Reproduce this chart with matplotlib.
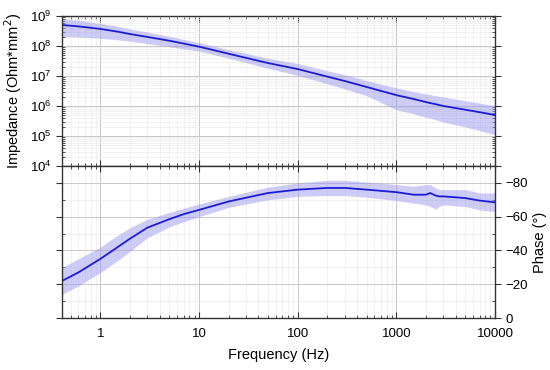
import numpy as np
import matplotlib.pyplot as plt
from matplotlib.ticker import LogLocator, MultipleLocator, NullFormatter, FixedLocator

plt.rcParams['font.family'] = ['Liberation Sans', 'DejaVu Sans']

# frequency points (Hz)
freq = [0.41, 0.6, 1, 1.5, 2, 3, 5, 7, 10, 20, 50, 100, 200, 300, 500,
        1000, 1500, 2000, 2200, 2500, 2700, 3000, 5000, 7000, 10000]

# impedance (Ohm*mm^2): mean, upper and lower band
imp_mean = [5e8, 4.5e8, 3.7e8, 3.0e8, 2.5e8, 2.0e8, 1.5e8, 1.2e8, 9.5e7, 5.5e7,
            2.7e7, 1.7e7, 9.5e6, 6.8e6, 4.3e6, 2.3e6, 1.7e6, 1.35e6, 1.25e6,
            1.15e6, 1.08e6, 1.0e6, 7.5e5, 6.2e5, 5e5]
imp_upper = [8e8, 7.2e8, 5.6e8, 4.5e8, 3.7e8, 2.9e8, 2.1e8, 1.65e8, 1.3e8, 7.5e7,
             3.9e7, 2.6e7, 1.5e7, 1.1e7, 7e6, 4e6, 3e6, 2.5e6, 2.4e6,
             2.2e6, 2.1e6, 2e6, 1.5e6, 1.25e6, 1e6]
imp_lower = [2.1e8, 2e8, 1.8e8, 1.6e8, 1.45e8, 1.2e8, 9.5e7, 8e7, 6.8e7, 3.9e7,
             1.8e7, 1.05e7, 5.5e6, 3.7e6, 2.2e6, 7.5e5, 5.5e5, 4.2e5, 3.9e5,
             3.5e5, 3.2e5, 2.9e5, 2e5, 1.5e5, 1.1e5]

# phase (deg): mean, upper and lower band
ph_mean = [-22, -27, -35, -42, -47, -53.5, -58.5, -61.5, -64, -69, -74, -76, -77, -77,
           -76, -74.5, -73, -73, -74, -72.5, -72, -72, -71, -69.5, -68.5]
ph_upper = [-30, -35, -42, -49, -53.5, -58.5, -62.5, -65, -67.5, -72, -77.5, -80, -81.5,
            -81.5, -80.5, -79, -78, -79, -79, -77, -76, -76, -76, -74, -74]
ph_lower = [-14, -19, -27, -34, -39.5, -47.5, -54, -57, -60, -65.5, -70, -72, -72.5,
            -72.5, -71.5, -69.5, -68, -67, -66, -64.5, -66, -67, -66, -64, -63]

line_c = '#1c1cd6'
fill_c = '#9a9af0'

fig = plt.figure(figsize=(5.5, 3.7), dpi=100)
ax1 = fig.add_axes([0.113, 0.5514, 0.787, 0.4054])
ax2 = fig.add_axes([0.113, 0.1405, 0.787, 0.4109])

for ax in (ax1, ax2):
    ax.set_xscale('log')
    ax.set_xlim(0.41, 10000)
    ax.grid(True, which='major', color='#c8c8c8', lw=0.7)
    ax.grid(True, which='minor', color='#ececec', lw=0.5)
    ax.set_axisbelow(True)
    for s in ax.spines.values():
        s.set_color('#333333')
        s.set_linewidth(1.0)
    ax.tick_params(axis='x', which='both', direction='in', top=True, bottom=True)
    ax.tick_params(which='major', length=4, labelsize=9.5, color='#333333')
    ax.tick_params(which='minor', length=2, color='#333333')

# impedance
ax1.fill_between(freq, imp_lower, imp_upper, color=fill_c, alpha=0.5, lw=0)
ax1.plot(freq, imp_mean, color=line_c, lw=1.3)
ax1.set_yscale('log')
ax1.set_ylim(1e4, 1e9)
ax1.yaxis.set_major_locator(LogLocator(base=10, numticks=10))
ax1.yaxis.set_minor_locator(LogLocator(base=10, subs=np.arange(2, 10), numticks=10))
ax1.yaxis.set_minor_formatter(NullFormatter())
ax1.tick_params(axis='y', which='both', left=True, right=True)
ax1.tick_params(axis='y', which='major', direction='out')
ax1.tick_params(axis='y', which='minor', direction='in')
ax1.tick_params(axis='x', labelbottom=False)
ax1.set_ylabel('Impedance (Ohm*mm$^2$)', fontsize=10.5)

# phase
ax2.fill_between(freq, ph_lower, ph_upper, color=fill_c, alpha=0.5, lw=0)
ax2.plot(freq, ph_mean, color=line_c, lw=1.3)
ax2.set_ylim(0, -90)
ax2.yaxis.set_major_locator(FixedLocator([0, -20, -40, -60, -80]))
ax2.yaxis.set_minor_locator(MultipleLocator(10))
ax2.yaxis.tick_right()
ax2.yaxis.set_label_position('right')
ax2.tick_params(axis='y', which='both', left=True, right=True, labelleft=False)
ax2.tick_params(axis='y', which='major', direction='out')
ax2.tick_params(axis='y', which='minor', direction='in')
ax2.tick_params(axis='x', which='major', pad=7)
ax2.set_xticks([1, 10, 100, 1000, 10000])
ax2.set_xticklabels(['1', '10', '100', '1000', '10000'])
ax2.set_ylabel('Phase (°)', fontsize=10.5)
ax2.set_xlabel('Frequency (Hz)', fontsize=10.5, labelpad=6)

fig.savefig('out.png', dpi=100)
